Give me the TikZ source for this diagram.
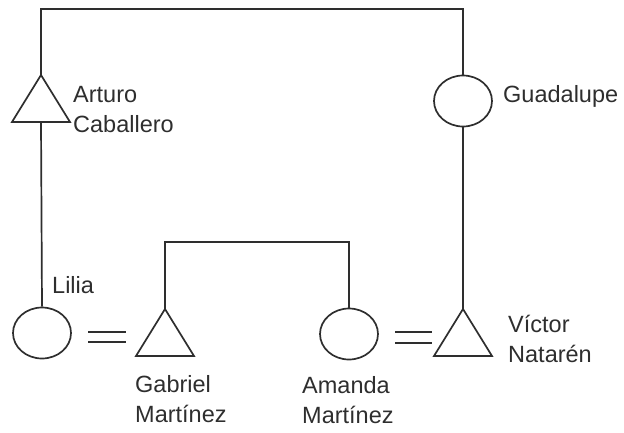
\documentclass[tikz,border=0pt]{standalone}
\usepackage{fontspec}
\setmainfont{Liberation Sans}
\usetikzlibrary{shapes.geometric}
\definecolor{ink}{HTML}{2E2E2E}
\tikzset{
  line/.style={draw=ink, line width=1.7pt},
  female/.style={ellipse, draw=ink, line width=1.7pt, minimum width=58pt, minimum height=51pt, inner sep=0pt},
  lbl/.style={text=ink, font=\fontsize{23.5}{29.5}\selectfont, align=left, inner sep=0pt, anchor=base west}
}
\newcommand{\maletri}[1]{\draw[line] (#1) -- ++(-29,47) -- ++(58,0) -- cycle;}
\begin{document}
\begin{tikzpicture}[x=1pt,y=-1pt]
\useasboundingbox (0,0) rectangle (624,432);
% males (apex coordinates)
\coordinate (arturo) at (41,75);
\coordinate (arturoB) at (41,122);
\coordinate (gabriel) at (165,309);
\coordinate (victor) at (463,309);
\maletri{arturo}
\maletri{gabriel}
\maletri{victor}
% females
\node[female] (guad) at (463,101) {};
\node[female] (lilia) at (42,333) {};
\node[female] (amanda) at (349,334) {};
% connectors
\coordinate (tl) at (41,9);
\coordinate (sib) at (349,242);
\draw[line] (arturo) -- (tl) -| (guad.north);
\draw[line] (arturoB) -- (lilia.north);
\draw[line] (guad.south) -- (victor);
\draw[line] (gabriel) |- (sib) -- (amanda.north);
% marriage signs
\coordinate (m1a) at (88,332); \coordinate (m1b) at (126,332);
\coordinate (m1c) at (88,342); \coordinate (m1d) at (126,342);
\draw[line] (m1a) -- (m1b);
\draw[line] (m1c) -- (m1d);
\coordinate (m2a) at (395,332); \coordinate (m2b) at (432,332);
\coordinate (m2c) at (395,343); \coordinate (m2d) at (432,343);
\draw[line] (m2a) -- (m2b);
\draw[line] (m2c) -- (m2d);
% labels (anchor at baseline of last line)
\node[lbl] (tArturo) at (73,132) {Arturo\\Caballero};
\node[lbl] (tGuad) at (503,102) {Guadalupe};
\node[lbl] (tLilia) at (52,293) {Lilia};
\node[lbl] (tGabriel) at (135,422) {Gabriel\\Martínez};
\node[lbl] (tAmanda) at (302,423) {Amanda\\Martínez};
\node[lbl] (tVictor) at (508,362) {Víctor\\Natarén};
\end{tikzpicture}
\end{document}
